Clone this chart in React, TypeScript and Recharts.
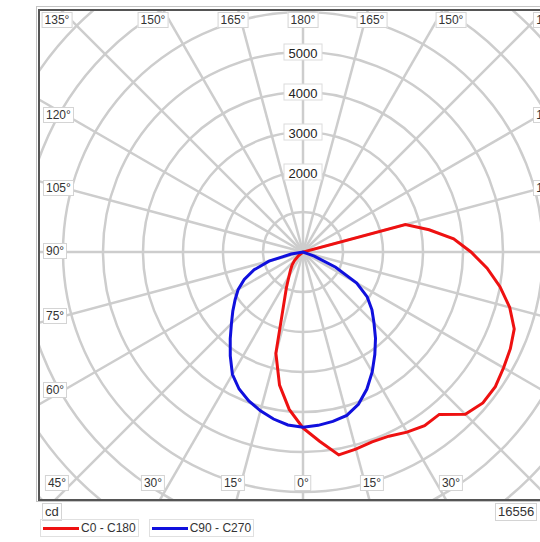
import {PolarAngleAxis, PolarGrid, PolarRadiusAxis, Radar, RadarChart} from 'recharts';

// gamma angles (deg) for every plane, 0 = straight down, 180 = straight up
const GAMMA = [
  0, 5, 10, 15, 20, 25, 30, 35, 40, 45, 50, 55, 60, 65, 70, 75, 80, 85, 90,
  95, 100, 105, 110, 115, 120, 125, 130, 135, 140, 145, 150, 155, 160, 165, 170, 175, 180,
];

// luminous intensity (cd) per gamma angle
const C0 = [
  4400, 4750, 5150, 5100, 5050, 5080, 5200, 5300, 5300, 5740, 5870, 5870, 5790, 5720, 5620, 5350, 5000, 4620, 4200,
  3780, 3200, 2650, 0, 0, 0, 0, 0, 0, 0, 0, 0, 0, 0, 0, 0, 0, 0,
];
const C180 = [
  4400, 3950, 3380, 2620, 1420, 980, 700, 540, 420, 300, 150, 0, 0, 0, 0, 0, 0, 0, 0,
  0, 0, 0, 0, 0, 0, 0, 0, 0, 0, 0, 0, 0, 0, 0, 0, 0, 0,
];
const C90 = [
  4380, 4350, 4300, 4230, 4050, 3780, 3460, 3130, 2820, 2510, 2250, 1960, 1550, 900, 300, 0, 0, 0, 0,
  0, 0, 0, 0, 0, 0, 0, 0, 0, 0, 0, 0, 0, 0, 0, 0, 0, 0,
];
const C270 = [
  4380, 4340, 4240, 4110, 3960, 3780, 3530, 3170, 2830, 2530, 2290, 2070, 1870, 1620, 1300, 880, 300, 0, 0,
  0, 0, 0, 0, 0, 0, 0, 0, 0, 0, 0, 0, 0, 0, 0, 0, 0, 0,
];

const RADIUS_TICKS = [0, 1000, 2000, 3000, 4000, 5000, 6000, 7000, 8000, 9000];
const LABELED_TICKS = [2000, 3000, 4000, 5000];
// full-turn angle: 0 = down, 90 = right (C0 side), 180 = up, 270 = left (C180 side)
const ANGLE_TICKS = [0, 15, 30, 45, 60, 75, 90, 105, 120, 135, 150, 165, 180, 195, 210, 225, 240, 255, 270, 285, 300, 315, 330, 345];

const TOP_LABELS = ['135°', '150°', '165°', '180°', '165°', '150°', '135°'];
const BOTTOM_LABELS = ['45°', '30°', '15°', '0°', '15°', '30°', '45°'];
const SIDE_LABELS = ['120°', '105°', '90°', '75°', '60°'];
const MAX_VALUE = '16556';
const UNIT = 'cd';
const SERIES = [
  {key: 'red', name: 'C0 - C180', color: '#ee1111'},
  {key: 'blue', name: 'C90 - C270', color: '#1010dd'},
];

const data: {phi: number; red: number; blue: number}[] = [];
GAMMA.forEach((g, i) => {
  if (g < 180) data.push({phi: g, red: C0[i], blue: C90[i]});
});
for (let i = GAMMA.length - 1; i > 0; i--) {
  data.push({phi: 360 - GAMMA[i], red: C180[i], blue: C270[i]});
}

const FONT = '"Liberation Sans", Arial, sans-serif';

const tagStyle = {
  position: 'absolute' as const,
  background: '#fff',
  border: '1px solid #d4d4d4',
  padding: '0 2px',
  fontFamily: FONT,
  fontSize: 12,
  lineHeight: '14px',
  color: '#333',
  whiteSpace: 'nowrap' as const,
};

// centred tag
function Tag({x, y, text}: {x: number; y: number; text: string}) {
  return <div style={{...tagStyle, left: x, top: y, transform: 'translate(-50%, -50%)'}}>{text}</div>;
}

const topX = [57, 153, 233, 303, 372, 451, 549];
const sideY = [115, 188, 251, 316, 390];

const RadiusTick = (props: any) => {
  const {x, y, payload} = props;
  if (!LABELED_TICKS.includes(payload.value)) return <g />;
  return (
    <g>
      <rect x={x - 19} y={y - 8} width={38} height={16} fill="#fff" stroke="#dcdcdc" />
      <text x={x} y={y + 1} textAnchor="middle" dominantBaseline="central" fontFamily={FONT} fontSize={13} fill="#222">
        {payload.value}
      </text>
    </g>
  );
};

export default function App() {
  return (
    <div style={{position: 'absolute', left: 0, top: 0, width: 540, height: 542, overflow: 'hidden', background: '#fff'}}>
      {/* outer faint frame */}
      <div style={{position: 'absolute', left: 36, top: 6, width: 520, height: 494, border: '1px solid #c4c4c4'}} />
      {/* inner frame */}
      <div style={{position: 'absolute', left: 38, top: 9, width: 520, height: 488, border: '2px solid #555', overflow: 'hidden'}}>
        <RadarChart
          width={520}
          height={488}
          data={data}
          cx={263}
          cy={241}
          innerRadius={0}
          outerRadius={360}
          startAngle={-90}
          endAngle={270}
          margin={{top: 0, right: 0, bottom: 0, left: 0}}
        >
          <PolarGrid gridType="circle" stroke="#cdcdcd" strokeWidth={2.5} />
          <PolarAngleAxis type="number" dataKey="phi" domain={[0, 360]} ticks={ANGLE_TICKS} tick={false} axisLine={false} />
          <PolarRadiusAxis angle={90} type="number" domain={[0, 9000]} ticks={RADIUS_TICKS} tick={RadiusTick} axisLine={false} />
          {SERIES.map((s) => (
            <Radar
              key={s.key}
              dataKey={s.key}
              name={s.name}
              stroke={s.color}
              strokeWidth={3}
              fill="none"
              dot={false}
              isAnimationActive={false}
            />
          ))}
        </RadarChart>
      </div>
      {TOP_LABELS.slice(0, 6).map((t, i) => (
        <Tag key={'t' + i} x={topX[i]} y={20} text={t} />
      ))}
      {BOTTOM_LABELS.slice(0, 6).map((t, i) => (
        <Tag key={'b' + i} x={topX[i]} y={483} text={t} />
      ))}
      {SIDE_LABELS.map((t, i) => (
        <div key={'l' + i} style={{...tagStyle, left: 43, top: sideY[i] - 8}}>{t}</div>
      ))}
      {/* right-hand labels sit mostly past the picture's edge, as in the original */}
      {[TOP_LABELS[6], ...SIDE_LABELS, BOTTOM_LABELS[6]].map((t, i) => (
        <div key={'r' + i} style={{...tagStyle, right: -24, top: [20, ...sideY, 483][i] - 8}}>{t}</div>
      ))}
      {/* unit and max value */}
      <div style={{...tagStyle, left: 42, top: 503, fontSize: 13, lineHeight: '16px'}}>{UNIT}</div>
      <div style={{...tagStyle, left: 495, top: 503, fontSize: 13, lineHeight: '16px'}}>{MAX_VALUE}</div>
      {/* legend */}
      <div style={{position: 'absolute', left: 40, top: 519, display: 'flex', gap: 10}}>
        {SERIES.map((s) => (
          <div key={s.key} style={{display: 'flex', alignItems: 'center', border: '1px solid #e0e0e0', padding: '0 2px', height: 16}}>
            <div style={{width: 36, height: 3, background: s.color, marginRight: 2}} />
            <span style={{fontFamily: FONT, fontSize: 12, color: '#333'}}>{s.name}</span>
          </div>
        ))}
      </div>
    </div>
  );
}
